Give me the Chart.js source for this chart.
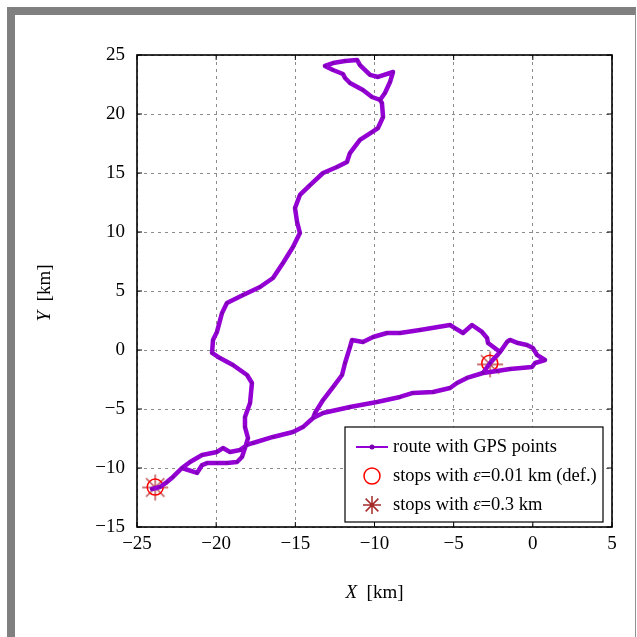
<!DOCTYPE html>
<html>
<head>
<meta charset="utf-8">
<script src="https://cdn.jsdelivr.net/npm/chart.js@4.4.0/dist/chart.umd.min.js"></script>
<style>
    body { margin: 0; background: #fff; }
    #frame {
        position: absolute; left: 7px; top: 7px; width: 620px; height: 640px;
        border-left: 8px solid #808080; border-top: 8px solid #808080; border-right: 1px solid #909090;
    }
    #wrap { position: absolute; left: 0; top: 0; width: 637px; height: 637px; }
</style>
</head>
<body>
<div id="frame"></div>
<div id="wrap"><canvas id="c" width="637" height="637"></canvas></div>
<script>
// GPS route in km, null = break between drawn pieces
var routeX = [
    -24.05, -23.55, -23.11, -22.73, -22.16, -21.21, -20.89, -20.58, -19.95, -19.32, -18.68, -18.37, -18.18,
    -17.99, -18.18, -18.18, -17.86, -17.74, -18.05, -18.94, -19.76, -20.26, -20.20, -19.95, -19.63, -19.32,
    -18.30, -17.23, -16.41, -15.78, -15.15, -14.71, -14.89, -15.02, -14.71, -14.07, -13.25, -12.37, -11.74,
    -11.55, -10.92, -10.16, -9.78, -9.46, -9.53, -9.65, -9.34, -9.02, -8.83, -9.78, -10.28, -10.92, -11.10,
    -11.86, -12.62, -13.13, -12.62, -11.99, -11.86, -11.55, -10.73, -10.16, -9.65,
    null,
    -22.16, -21.65, -20.89, -19.95, -19.57, -19.13, -18.49, -18.05, -17.67, -16.41, -15.15, -14.52, -13.88,
    -13.76, -13.25, -12.62, -12.05, -11.86, -11.55, -11.42, -10.73, -10.09, -9.21, -8.39, -7.13, -5.23, -4.92,
    -4.41, -3.84, -3.21, -2.89, -2.83, -2.07, -1.63, -1.44, -0.94, -0.37, 0.01, 0.26, 0.77, 0.14, -0.05,
    -1.44, -2.26, -3.15, -4.16, -4.79, -5.23, -6.30, -7.57, -8.39, -9.84, -11.55, -13.25, -13.88,
    null,
    -3.15, -2.70, -2.07
];
var routeY = [
    -11.78, -11.61, -11.19, -10.76, -10.0, -10.42, -9.75, -9.58, -9.58, -9.58, -9.49, -9.07, -8.31,
    -7.46, -6.53, -5.68, -4.49, -2.80, -2.12, -1.27, -0.68, -0.25, 0.85, 1.53, 3.14, 3.98,
    4.66, 5.34, 6.10, 7.37, 8.73, 9.92, 10.85, 12.03, 13.14, 13.98, 15.0, 15.51, 15.93,
    16.69, 17.80, 18.47, 18.81, 19.75, 20.93, 21.19, 21.78, 22.71, 23.56, 23.14, 23.31, 24.15, 24.58,
    24.49, 24.32, 24.07, 23.73, 23.39, 23.05, 22.63, 22.03, 21.44, 21.19,
    null,
    -10.0, -9.49, -8.90, -8.64, -8.31, -8.64, -8.47, -8.05, -7.88, -7.37, -6.95, -6.53, -5.76,
    -5.34, -4.24, -3.14, -2.12, -1.10, 0.25, 0.85, 0.68, 1.10, 1.44, 1.44, 1.69, 2.12, 1.86,
    1.44, 2.12, 1.53, 1.02, 0.59, -0.17, 0.68, 0.85, 0.59, 0.42, 0.17, -0.42, -0.85, -1.10, -1.44,
    -1.61, -1.78, -1.95, -2.37, -2.80, -3.22, -3.56, -3.64, -3.98, -4.41, -4.83, -5.34, -5.76,
    null,
    -1.95, -1.10, -0.17
];

// stops found with eps = 0.01 km and eps = 0.3 km
var stopsFineX = [-23.85, -2.72];
var stopsFineY = [-11.62, -1.12];
var stopsCoarseX = [-23.85, -2.70];
var stopsCoarseY = [-11.65, -1.22];

var xTicks = [-25, -20, -15, -10, -5, 0, 5];
var yTicks = [-15, -10, -5, 0, 5, 10, 15, 20, 25];

var serif = "'Liberation Serif', 'Times New Roman', serif";
var routeColor = "#9400d3";
var starColor = "#a52a2a";

function toPoints(xs, ys) {
    return xs.map((v, i) => ({ x: v, y: ys[i] }));
}

function fmt(v) {
    return v < 0 ? "\u2212" + Math.abs(v) : String(v);
}

// 8-ray asterisk
function strokeStar(ctx, cx, cy, r) {
    ctx.beginPath();
    for (let k = 0; k < 4; k++) {
        let ang = k * Math.PI / 4;
        ctx.moveTo(cx - r * Math.cos(ang), cy - r * Math.sin(ang));
        ctx.lineTo(cx + r * Math.cos(ang), cy + r * Math.sin(ang));
    }
    ctx.stroke();
}

var starImg = document.createElement("canvas");
starImg.width = 30; starImg.height = 30;
(function () {
    let g = starImg.getContext("2d");
    g.strokeStyle = "rgba(170,40,40,0.85)";
    g.lineWidth = 1.4;
    strokeStar(g, 15, 15, 13);
})();

// text made of [string, italic] pieces
function drawParts(ctx, parts, x, y, size) {
    parts.forEach(p => {
        ctx.font = (p[1] ? "italic " : "") + size + "px " + serif;
        ctx.fillText(p[0], x, y);
        x += ctx.measureText(p[0]).width;
    });
}

function partsWidth(ctx, parts, size) {
    let w = 0;
    parts.forEach(p => {
        ctx.font = (p[1] ? "italic " : "") + size + "px " + serif;
        w += ctx.measureText(p[0]).width;
    });
    return w;
}

var legendRows = [
    [["route with GPS points", false]],
    [["stops with ", false], ["\u03b5", true], ["=0.01 km (def.)", false]],
    [["stops with ", false], ["\u03b5", true], ["=0.3 km", false]]
];

var decor = {
    id: "decor",
    afterDraw(chart) {
        let ctx = chart.ctx, a = chart.chartArea;
        let xs = chart.scales.x, ys = chart.scales.y;
        ctx.save();

        // inward tick marks on all four sides
        ctx.strokeStyle = "#000";
        ctx.lineWidth = 1;
        ctx.beginPath();
        xTicks.forEach(v => {
            let p = xs.getPixelForValue(v);
            ctx.moveTo(p, a.bottom); ctx.lineTo(p, a.bottom - 5);
            ctx.moveTo(p, a.top); ctx.lineTo(p, a.top + 5);
        });
        yTicks.forEach(v => {
            let p = ys.getPixelForValue(v);
            ctx.moveTo(a.left, p); ctx.lineTo(a.left + 5, p);
            ctx.moveTo(a.right, p); ctx.lineTo(a.right - 5, p);
        });
        ctx.stroke();

        ctx.lineWidth = 1.6;
        ctx.strokeRect(a.left, a.top, a.right - a.left, a.bottom - a.top);

        // axis titles
        ctx.fillStyle = "#000";
        ctx.textBaseline = "middle";
        let xt = [["X", true], ["  [km]", false]];
        let w = partsWidth(ctx, xt, 19);
        drawParts(ctx, xt, (a.left + a.right) / 2 - w / 2, 593, 19);

        let yt = [["Y", true], ["  [km]", false]];
        w = partsWidth(ctx, yt, 19);
        ctx.save();
        ctx.translate(45, (a.top + a.bottom) / 2 + 2);
        ctx.rotate(-Math.PI / 2);
        drawParts(ctx, yt, -w / 2, 0, 19);
        ctx.restore();

        // legend box
        let bx = 345, by = 427, bw = 258, bh = 95;
        ctx.fillStyle = "#fff";
        ctx.fillRect(bx, by, bw, bh);
        ctx.lineWidth = 1.2;
        ctx.strokeStyle = "#000";
        ctx.strokeRect(bx, by, bw, bh);

        let sx = 372, rows = [447, 476, 505];
        ctx.strokeStyle = routeColor;
        ctx.lineWidth = 2;
        ctx.beginPath(); ctx.moveTo(356, rows[0]); ctx.lineTo(388, rows[0]); ctx.stroke();
        ctx.fillStyle = "#7a00b0";
        ctx.beginPath(); ctx.arc(sx, rows[0], 2.5, 0, Math.PI * 2); ctx.fill();

        ctx.strokeStyle = "#ff0000";
        ctx.lineWidth = 1.5;
        ctx.beginPath(); ctx.arc(sx, rows[1], 8, 0, Math.PI * 2); ctx.stroke();

        ctx.strokeStyle = starColor;
        ctx.lineWidth = 1.5;
        strokeStar(ctx, sx, rows[2], 9);

        ctx.fillStyle = "#000";
        legendRows.forEach((r, i) => drawParts(ctx, r, 393, rows[i], 18.5));

        ctx.restore();
    }
};

new Chart(document.getElementById("c"), {
    type: "scatter",
    data: {
        datasets: [{
            label: "route with GPS points",
            data: toPoints(routeX, routeY),
            showLine: true,
            spanGaps: false,
            borderColor: routeColor,
            borderWidth: 4.5,
            borderJoinStyle: "round",
            borderCapStyle: "round",
            pointRadius: 1.5,
            pointBackgroundColor: "#7a00b0",
            pointBorderWidth: 0
        }, {
            label: "stops with eps=0.01 km (def.)",
            data: toPoints(stopsFineX, stopsFineY),
            pointStyle: "circle",
            pointRadius: 8,
            borderColor: "#ff0000",
            backgroundColor: "rgba(0,0,0,0)",
            borderWidth: 1.5
        }, {
            label: "stops with eps=0.3 km",
            data: toPoints(stopsCoarseX, stopsCoarseY),
            pointStyle: starImg,
            pointRadius: 13
        }]
    },
    options: {
        responsive: false,
        animation: false,
        devicePixelRatio: 1,
        layout: { padding: { left: 0, top: 55, right: 25, bottom: 0 } },
        plugins: { legend: { display: false }, tooltip: { enabled: false } },
        scales: {
            x: {
                type: "linear", min: -25, max: 5,
                afterFit: s => { s.height = 110; },
                afterBuildTicks: s => { s.ticks = xTicks.map(v => ({ value: v })); },
                ticks: { callback: fmt, color: "#000", font: { family: serif, size: 19 }, padding: 6, maxRotation: 0 },
                grid: { color: "#8c8c8c", lineWidth: 1, drawTicks: false },
                border: { display: false, dash: [3, 4] }
            },
            y: {
                type: "linear", min: -15, max: 25,
                afterFit: s => { s.width = 137; },
                afterBuildTicks: s => { s.ticks = yTicks.map(v => ({ value: v })); },
                ticks: { callback: fmt, color: "#000", font: { family: serif, size: 19 }, padding: 12 },
                grid: { color: "#8c8c8c", lineWidth: 1, drawTicks: false },
                border: { display: false, dash: [3, 4] }
            }
        }
    },
    plugins: [decor]
});
</script>
</body>
</html>
